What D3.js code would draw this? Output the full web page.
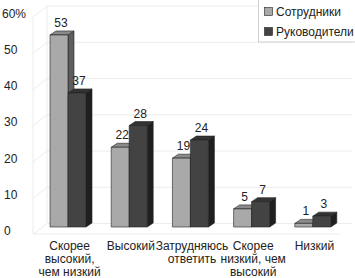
<!DOCTYPE html>
<html><head><meta charset="utf-8">
<script src="https://cdn.jsdelivr.net/npm/d3@7"></script>
<style>body{margin:0;background:#fff}svg{display:block;font-family:"Liberation Sans",Arial,sans-serif}</style>
</head><body>
<svg id="c" width="355" height="278"></svg>
<script>
const categories = [["Скорее","высокий,","чем низкий"],["Высокий"],["Затрудняюсь","ответить"],["Скорее","низкий, чем","высокий"],["Низкий"]];
const seriesNames = ["Сотрудники","Руководители"];
const employees = [53,22,19,5,1];
const managers = [37,28,24,7,3];
const yTicks = [0,10,20,30,40,50,60];

(function(){
const svg = d3.select("#c");
const depthX=6, depthY=4;
const y = d3.scaleLinear().domain([0,60]).range([227,9.6]);
const x = d3.scaleBand().domain(d3.range(categories.length)).range([40,346]);
const sub = d3.scaleBand().domain([0,1]).range([10,46]);
const frontC=["#a9a9a9","#434343"], topC=["#8a8a8a","#333333"], sideC=["#5e5e5e","#1f1f1f"];

const g0 = svg.append("g");
const wx0=33, bx=47, bdy=9;
yTicks.forEach(v=>{
  const yy=y(v)+3.5;
  g0.append("line").attr("x1",bx).attr("x2",352).attr("y1",yy-bdy+2).attr("y2",yy-bdy+2).attr("stroke","#ececec");
  g0.append("line").attr("x1",wx0).attr("x2",bx).attr("y1",yy+4).attr("y2",yy-bdy+2).attr("stroke","#ececec");
});
g0.append("line").attr("x1",wx0).attr("x2",wx0).attr("y1",y(60)+7).attr("y2",y(0)+7).attr("stroke","#ececec");
g0.append("line").attr("x1",bx).attr("x2",bx).attr("y1",y(60)-4).attr("y2",y(0)-4).attr("stroke","#ececec");
g0.append("line").attr("x1",wx0).attr("x2",340).attr("y1",y(0)+7).attr("y2",y(0)+7).attr("stroke","#ececec");

svg.append("g").selectAll("text").data(yTicks).join("text")
  .attr("x",d=>d===60?2:4).attr("y",d=>y(d)+3.5+4.5)
  .attr("font-size",12).attr("fill","#222")
  .text(d=>d===60?"60%":d);

const data=[];
categories.forEach((c,i)=>{data.push({i,s:0,v:employees[i]});data.push({i,s:1,v:managers[i]});});
const bars = svg.append("g");
data.forEach(d=>{
  const x0=x(d.i)+sub(d.s), w=sub.bandwidth(), y0=y(d.v), yb=y(0);
  const g=bars.append("g").attr("stroke","#222").attr("stroke-width",0.6).attr("stroke-linejoin","round");
  g.append("path").attr("d",`M${x0+w},${yb}L${x0+w+depthX},${yb-depthY}L${x0+w+depthX},${y0-depthY}L${x0+w},${y0}Z`).attr("fill",sideC[d.s]);
  g.append("path").attr("d",`M${x0},${y0}L${x0+depthX},${y0-depthY}L${x0+w+depthX},${y0-depthY}L${x0+w},${y0}Z`).attr("fill",topC[d.s]);
  g.append("rect").attr("x",x0).attr("y",y0).attr("width",w).attr("height",yb-y0).attr("fill",frontC[d.s]);
  svg.append("text").attr("x",x0+w/2+2).attr("y",y0-depthY-4).attr("text-anchor","middle")
    .attr("font-size",12).attr("fill","#222").text(d.v);
});

categories.forEach((lines,i)=>{
  const t=svg.append("text").attr("text-anchor","middle").attr("font-size",12).attr("fill","#222");
  lines.forEach((l,k)=>t.append("tspan").attr("x",x(i)+x.bandwidth()/2-1).attr("y",250+13*k).text(l));
});

const lg=svg.append("g");
lg.append("rect").attr("x",258.5).attr("y",-1).attr("width",100).attr("height",43).attr("fill","#fff").attr("stroke","#cfcfcf");
seriesNames.forEach((n,k)=>{
  lg.append("rect").attr("x",264.5).attr("y",7.5+20*k).attr("width",8).attr("height",8).attr("fill",frontC[k]).attr("stroke","#222").attr("stroke-width",0.6);
  lg.append("text").attr("x",276).attr("y",16+20*k).attr("font-size",12).attr("fill","#222").text(n);
});
})();
</script>
</body></html>
